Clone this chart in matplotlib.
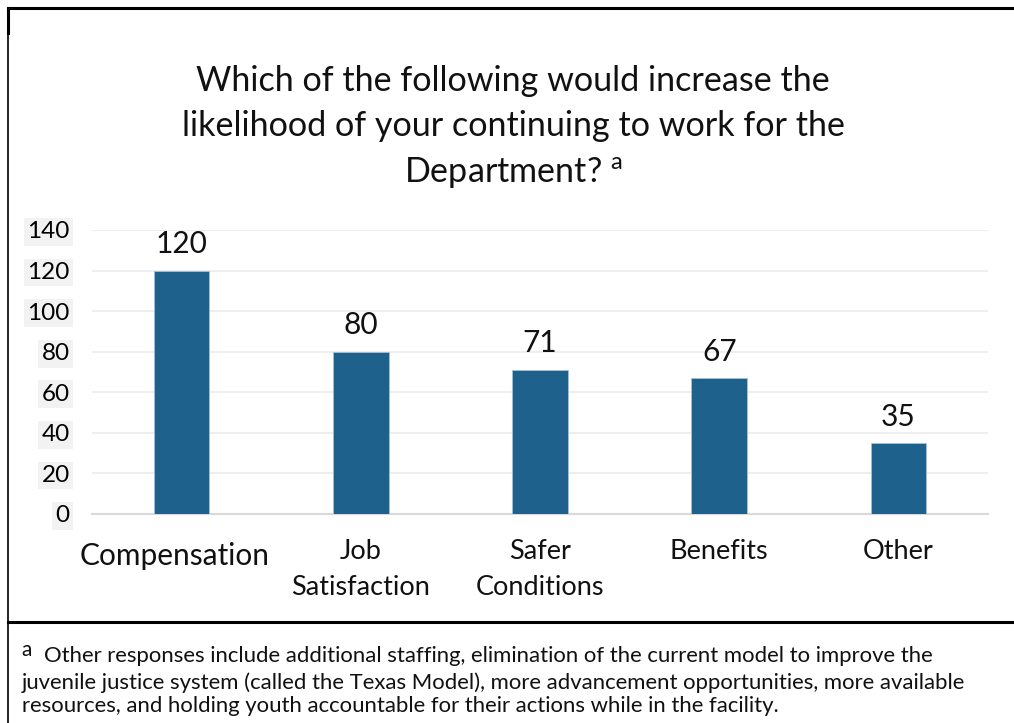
import matplotlib
matplotlib.use("Agg")
import matplotlib.pyplot as plt
from matplotlib.lines import Line2D

categories = ["Compensation", "Job\nSatisfaction", "Safer\nConditions", "Benefits", "Other"]
values = [120, 80, 71, 67, 35]
yticks = [0, 20, 40, 60, 80, 100, 120, 140]
title = "Which of the following would increase the\nlikelihood of your continuing to work for the\nDepartment? $^{\\mathregular{a}}$"
footnote_1 = "Other responses include additional staffing, elimination of the current model to improve the"
footnote_2 = "juvenile justice system (called the Texas Model), more advancement opportunities, more available"
footnote_3 = "resources, and holding youth accountable for their actions while in the facility."

plt.rcParams['font.family'] = ['Lato', 'DejaVu Sans']

W, H = 1014, 723
fig = plt.figure(figsize=(W / 100, H / 100), dpi=100)
fig.patch.set_facecolor("white")

def fx(px):
    return px / W

def fy(py):
    return 1 - py / H

ax = fig.add_axes([fx(92), fy(514), fx(988) - fx(92), fy(230) - fy(514)])
x = list(range(len(categories)))
bar_color = "#1f618d"
ax.bar(x, values, width=0.31, color=bar_color, edgecolor="#a9bfd0", linewidth=0.6, zorder=3)
ax.set_xlim(-0.5, len(categories) - 0.5)
ax.set_ylim(0, 140)
ax.set_yticks(yticks)
ax.yaxis.grid(True, color="#ebebeb", linewidth=1.2, zorder=0)
ax.set_axisbelow(True)
for s in ["top", "right", "left"]:
    ax.spines[s].set_visible(False)
ax.spines["bottom"].set_color("#d9d9d9")
ax.spines["bottom"].set_linewidth(1.5)
ax.tick_params(axis="both", length=0)
ax.set_yticklabels([str(t) for t in yticks], fontsize=17.5)
for lab in ax.get_yticklabels():
    lab.set_bbox(dict(facecolor="#f2f2f2", edgecolor="none", pad=2.5))
ax.tick_params(axis="y", pad=16)
ax.set_xticks([])

for xi, v in zip(x, values):
    ax.annotate(str(v), (xi, v), xytext=(0, 9), textcoords="offset points",
                ha="center", va="bottom", fontsize=21.5, color="#111111")

# category labels
cat_sizes = [21.5, 19.5, 19.5, 19.5, 19.5]
for xi, c, fs in zip(x, categories, cat_sizes):
    if xi == 0:
        off = (-5, -20)
    else:
        off = (0, -18)
    ax.annotate(c, (xi, 0), xytext=off, textcoords="offset points",
                ha="center", va="top", fontsize=fs, linespacing=1.55, color="#111111",
                annotation_clip=False)

fig.text(fx(513), fy(128), title, ha="center", va="center", fontsize=24.6,
         linespacing=1.5, color="#111111")

# footnote
fig.text(fx(21), fy(650), "a", fontsize=15, ha="left", va="center", color="#111111")
fig.text(fx(44), fy(656), footnote_1, fontsize=15.9, ha="left", va="center", color="#111111")
fig.text(fx(22), fy(683), footnote_2, fontsize=15.9, ha="left", va="center", color="#111111")
fig.text(fx(22), fy(706), footnote_3, fontsize=15.9, ha="left", va="center", color="#111111")

# borders
fig.add_artist(Line2D([fx(8), 1], [fy(8), fy(8)], color="black", linewidth=2.2))
fig.add_artist(Line2D([fx(8), fx(8)], [fy(8), 0], color="black", linewidth=1.2))
fig.add_artist(Line2D([fx(8), fx(8)], [fy(8), fy(33)], color="black", linewidth=2.2))
fig.add_artist(Line2D([fx(8), 1], [fy(622), fy(622)], color="black", linewidth=2.2))

fig.savefig("out.png", dpi=100, facecolor="white")
